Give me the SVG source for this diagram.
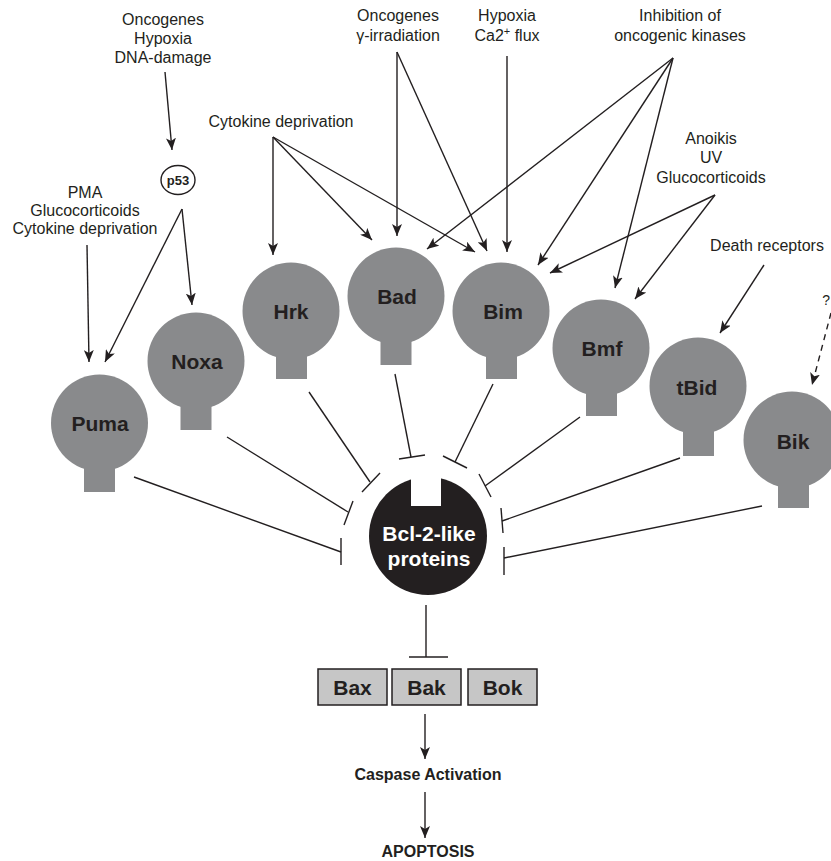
<svg xmlns="http://www.w3.org/2000/svg" width="831" height="861" viewBox="0 0 831 861">
<defs>
<marker id="ah" viewBox="0 0 12 10" refX="12" refY="5" markerWidth="12" markerHeight="10" markerUnits="userSpaceOnUse" orient="auto">
<path d="M0,0 L12,5 L0,10 L3,5 z" fill="#231f20"/>
</marker>
</defs>
<style>
.lbl{font-family:"Liberation Sans",Arial,sans-serif;font-size:16px;fill:#231f20;text-anchor:middle}
.nl{font-family:"Liberation Sans",Arial,sans-serif;font-size:21px;font-weight:bold;fill:#231f20;text-anchor:middle}
.bl{font-family:"Liberation Sans",Arial,sans-serif;font-size:16px;font-weight:bold;fill:#231f20;text-anchor:middle}
.node circle,.node rect{fill:#898a8c}
.ln{stroke:#231f20;stroke-width:1.4;fill:none}
.ar{stroke:#231f20;stroke-width:1.4;fill:none;marker-end:url(#ah)}
.box{fill:#c6c6c6;stroke:#231f20;stroke-width:1.5}
</style>
<rect width="831" height="861" fill="#ffffff"/>

<g id="labels">
<text class="lbl" x="163" y="25">Oncogenes</text>
<text class="lbl" x="163" y="44">Hypoxia</text>
<text class="lbl" x="163" y="63">DNA-damage</text>
<text class="lbl" x="85" y="198">PMA</text>
<text class="lbl" x="85" y="216">Glucocorticoids</text>
<text class="lbl" x="85" y="234">Cytokine deprivation</text>
<text class="lbl" x="281" y="127">Cytokine deprivation</text>
<text class="lbl" x="398" y="21">Oncogenes</text>
<text class="lbl" x="398" y="41">γ-irradiation</text>
<text class="lbl" x="507" y="21">Hypoxia</text>
<text class="lbl" x="507" y="41">Ca2<tspan font-size="11" dy="-6">+</tspan><tspan dy="6"> flux</tspan></text>
<text class="lbl" x="680" y="21">Inhibition of</text>
<text class="lbl" x="680" y="41">oncogenic kinases</text>
<text class="lbl" x="711" y="144">Anoikis</text>
<text class="lbl" x="711" y="163">UV</text>
<text class="lbl" x="711" y="183">Glucocorticoids</text>
<text class="lbl" x="767" y="251">Death receptors</text>
<text x="830" y="305" font-family="Liberation Sans, Arial, sans-serif" font-size="14" fill="#231f20" text-anchor="end">?</text>
<text class="bl" x="428" y="780">Caspase Activation</text>
<text class="bl" x="428" y="857">APOPTOSIS</text>
</g>

<g id="p53">
<ellipse cx="178" cy="180" rx="17" ry="14.5" fill="#ffffff" stroke="#231f20" stroke-width="1.4"/>
<text x="178" y="185" font-family="Liberation Sans, Arial, sans-serif" font-size="13" font-weight="bold" fill="#231f20" text-anchor="middle">p53</text>
</g>

<g id="connectors">
<line class="ar" x1="165" y1="72" x2="172" y2="150"/>
<line class="ar" x1="182" y1="209" x2="105" y2="362"/>
<line class="ar" x1="182" y1="209" x2="192" y2="305"/>
<line class="ar" x1="87" y1="245" x2="89" y2="362"/>
<line class="ar" x1="273" y1="137" x2="273" y2="255"/>
<line class="ar" x1="273" y1="137" x2="372" y2="240"/>
<line class="ar" x1="273" y1="137" x2="475" y2="252"/>
<line class="ar" x1="397" y1="52" x2="397" y2="236"/>
<line class="ar" x1="397" y1="52" x2="487" y2="251"/>
<line class="ar" x1="507" y1="56" x2="507" y2="252"/>
<line class="ar" x1="673" y1="58" x2="427" y2="249"/>
<line class="ar" x1="673" y1="58" x2="538" y2="265"/>
<line class="ar" x1="673" y1="58" x2="615" y2="288"/>
<line class="ar" x1="715" y1="195" x2="550" y2="273"/>
<line class="ar" x1="715" y1="195" x2="635" y2="299"/>
<line class="ar" x1="764" y1="265" x2="720" y2="333"/>
<line class="ar" x1="831" y1="313" x2="812" y2="385" stroke-dasharray="6,5"/>

<line class="ln" x1="134" y1="477" x2="341" y2="552"/>
<line class="ln" x1="341" y1="538" x2="341" y2="565"/>
<line class="ln" x1="227" y1="437" x2="348" y2="512"/>
<line class="ln" x1="344" y1="525" x2="353" y2="501"/>
<line class="ln" x1="309" y1="392" x2="370" y2="482"/>
<line class="ln" x1="362" y1="492" x2="380" y2="473"/>
<line class="ln" x1="395" y1="374" x2="411" y2="457"/>
<line class="ln" x1="399" y1="459" x2="425" y2="455"/>
<line class="ln" x1="493" y1="384" x2="455" y2="462"/>
<line class="ln" x1="443" y1="456" x2="467" y2="468"/>
<line class="ln" x1="580" y1="417" x2="485" y2="486"/>
<line class="ln" x1="479" y1="474" x2="491" y2="497"/>
<line class="ln" x1="680" y1="458" x2="502" y2="521"/>
<line class="ln" x1="501" y1="508" x2="503" y2="533"/>
<line class="ln" x1="762" y1="506" x2="504" y2="558"/>
<line class="ln" x1="504" y1="547" x2="504" y2="575"/>
<line class="ln" x1="426" y1="605" x2="426" y2="657"/>
<line class="ln" x1="409" y1="657" x2="448" y2="657"/>
<line class="ar" x1="425" y1="714" x2="425" y2="759"/>
<line class="ar" x1="425" y1="792" x2="425" y2="838"/>
</g>

<g id="puma" class="node"><circle cx="99.5" cy="423" r="48.5"/><rect x="84" y="453" width="31" height="39"/><text class="nl" x="100" y="431">Puma</text></g>
<g id="noxa" class="node"><circle cx="196" cy="361" r="48.5"/><rect x="180.5" y="391" width="31" height="39"/><text class="nl" x="197" y="369">Noxa</text></g>
<g id="hrk" class="node"><circle cx="291" cy="311" r="48.5"/><rect x="276" y="341" width="31" height="38"/><text class="nl" x="291" y="319">Hrk</text></g>
<g id="bad" class="node"><circle cx="396" cy="296" r="48.5"/><rect x="380.5" y="326" width="31" height="39"/><text class="nl" x="397" y="304">Bad</text></g>
<g id="bim" class="node"><circle cx="501" cy="311" r="48.5"/><rect x="486" y="341" width="31" height="38"/><text class="nl" x="503" y="319">Bim</text></g>
<g id="bmf" class="node"><circle cx="601" cy="348" r="48.5"/><rect x="586" y="378" width="31" height="38"/><text class="nl" x="602" y="356">Bmf</text></g>
<g id="tbid" class="node"><circle cx="698" cy="386" r="48.5"/><rect x="683" y="416" width="31" height="40"/><text class="nl" x="697" y="395">tBid</text></g>
<g id="bik" class="node"><circle cx="792" cy="440" r="48.5"/><rect x="778" y="470" width="31" height="38"/><text class="nl" x="793" y="449">Bik</text></g>

<g id="bcl2">
<circle cx="428" cy="536" r="59" fill="#231f20"/>
<rect x="411" y="470" width="30" height="36" fill="#ffffff"/>
<text x="429" y="541" font-family="Liberation Sans, Arial, sans-serif" font-size="21" font-weight="bold" fill="#ffffff" text-anchor="middle">Bcl-2-like</text>
<text x="429" y="566" font-family="Liberation Sans, Arial, sans-serif" font-size="21" font-weight="bold" fill="#ffffff" text-anchor="middle">proteins</text>
</g>

<g id="bax"><rect class="box" x="318" y="669" width="69" height="36"/><text class="nl" x="352.5" y="695">Bax</text></g>
<g id="bak"><rect class="box" x="392" y="669" width="69" height="36"/><text class="nl" x="426.5" y="695">Bak</text></g>
<g id="bok"><rect class="box" x="468" y="669" width="69" height="36"/><text class="nl" x="502.5" y="695">Bok</text></g>
</svg>
